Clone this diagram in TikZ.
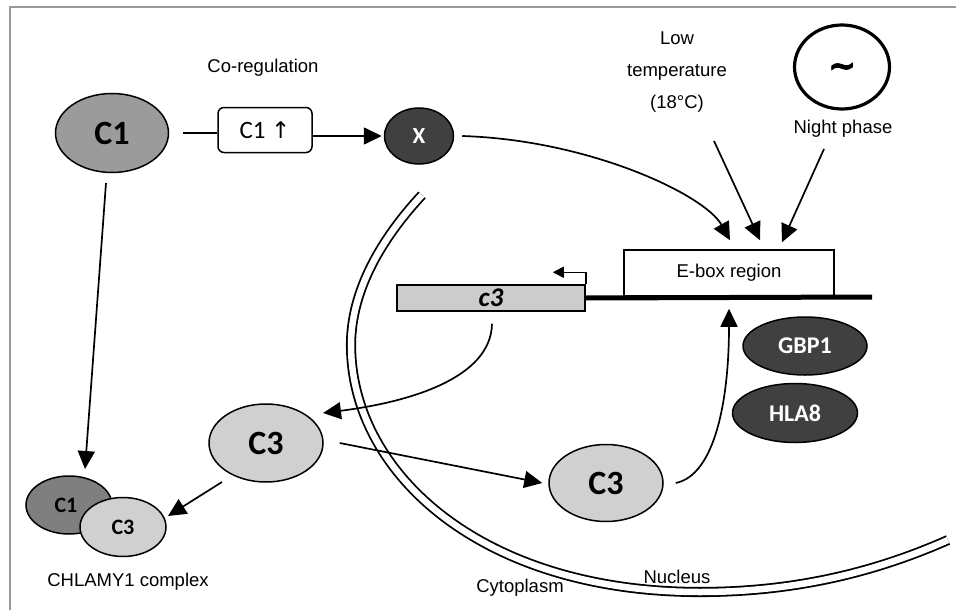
\documentclass[tikz,border=0pt]{standalone}
\usepackage{fontspec}
\setmainfont{Liberation Sans}
\newfontfamily\carl{Carlito}
\newfontfamily\dejavu{DejaVu Sans}
\newfontfamily\tildefont[FakeBold=2.5]{DejaVu Sans Bold}
\usetikzlibrary{shapes.geometric,arrows.meta,calc}
\definecolor{coneg}{HTML}{9B9B9B}
\definecolor{conedark}{HTML}{7F7F7F}
\definecolor{cthree}{HTML}{D0D0D0}
\definecolor{darkov}{HTML}{404040}
\definecolor{geneg}{HTML}{CCCCCC}
\definecolor{framegray}{HTML}{9A9A9A}
\begin{document}
\begin{tikzpicture}[x=1pt,y=-1pt,
  ln/.style={line width=1.7pt},
  arr/.style={line width=1.7pt,-{Triangle[length=18pt,width=17pt]}},
  oval/.style={ellipse,draw,line width=1.5pt,inner sep=0pt},
  bigl/.style={font=\carl\bfseries\fontsize{34}{34}\selectfont},
  midl/.style={font=\carl\bfseries\fontsize{24}{24}\selectfont},
  smll/.style={font=\carl\bfseries\fontsize{22}{22}\selectfont},
  txt/.style={font=\fontsize{18.5}{18.5}\selectfont,inner sep=0pt}
]
\useasboundingbox (0,0) rectangle (956,610);
% frame
\draw[framegray,line width=1.2pt] (10,610) -- (10,7) -- (956,7);

% nuclear envelope
\draw[line width=1.8pt,double=white,double distance=6.5pt]
  (422,195) .. controls (382,238) and (351,290) .. (351,345)
  .. controls (351,472) and (480,592) .. (700,592)
  .. controls (800,592) and (880,570) .. (948,540);

% nodes
\node[oval,fill=coneg,minimum width=113pt,minimum height=79pt,bigl] (c1) at (112,133) {C1};
\node[draw,rounded corners=6pt,line width=1.5pt,minimum width=94pt,minimum height=45pt,inner sep=0pt,
      font=\carl\fontsize{25}{25}\selectfont] (upbox) at (265,130) {C1 {\dejavu\fontsize{23}{23}\selectfont↑}};
\node[oval,fill=darkov,minimum width=69pt,minimum height=56pt,text=white,font=\carl\bfseries\fontsize{23}{23}\selectfont] (x) at (419,136) {X};
\node[txt] (coreg) at (263,68) {Co-regulation};

\node[txt,align=center,font=\fontsize{18.5}{32}\selectfont] (lowt) at (677,72) {Low\\temperature\\(18°C)};
\node[ellipse,draw,line width=3.2pt,minimum width=95pt,minimum height=84pt,inner sep=0pt] (night) at (842,67) {};
\node[font=\tildefont\fontsize{33}{33}\selectfont,inner sep=0pt] (tilde) at (842,70) {\textasciitilde};
\node[txt] (nightl) at (843,129) {Night phase};

\node[draw,line width=1.5pt,minimum width=210pt,minimum height=46pt,inner sep=0pt,txt] (ebox) at (729,273) {E-box region};
\node[draw,fill=geneg,line width=1.5pt,minimum width=188pt,minimum height=26pt,inner sep=0pt,
      font=\carl\bfseries\itshape\fontsize{27}{27}\selectfont] (gene) at (491,298) {c3};
\draw[line width=5pt] (gene.east) -- (872,297);

\node[oval,fill=darkov,minimum width=124pt,minimum height=58pt,text=white,midl] (gbp) at (805,346) {GBP1};
\node[oval,fill=darkov,minimum width=125pt,minimum height=59pt,text=white,midl] (hla) at (795,413) {HLA8};

\node[oval,fill=cthree,minimum width=114pt,minimum height=78pt,bigl] (c3a) at (266,443) {C3};
\node[oval,fill=cthree,minimum width=114pt,minimum height=77pt,bigl] (c3b) at (606,483) {C3};

\node[oval,fill=conedark,minimum width=86pt,minimum height=58pt,smll] (cx1) at (69,505) {};
\node[smll,inner sep=0pt] at (66,505) {C1};
\node[oval,fill=cthree,minimum width=86pt,minimum height=59pt,smll] (cx3) at (123,527) {C3};
\node[txt] (chl) at (128,582) {CHLAMY1 complex};

\node[txt] (cyto) at (520,588) {Cytoplasm};
\node[txt] (nuc) at (677,577) {Nucleus};

% connectors
\draw[ln] ([xshift=14pt]c1.east) -- (c1.east -| upbox.west);
\draw[arr] (upbox.east |- x.west) -- ([xshift=-2pt]x.west);
\draw[arr] ([xshift=8pt]x.east) .. controls (590,140) and (705,195) .. ([shift={(1,-9)}]ebox.north);
\coordinate (lts) at (714,141);
\draw[arr] (lts) -- ([shift={(31,-9)}]ebox.north);
\coordinate (nps) at (824,149);
\draw[arr] (nps) -- ([shift={(53,-7)}]ebox.north);

\draw[line width=1.5pt,-{Triangle[length=11pt,width=11pt]}] (gene.north east) -- ++(0,-12) -- ++(-33,0);

\draw[arr] ([shift={(1,12)}]gene.south) .. controls (491,378) and (410,402) .. ([shift={(57,-30)}]c3a.center);
\draw[arr] ([shift={(-6,50)}]c1.center) -- ([shift={(16,-36)}]cx1.center);
\draw[arr] ([shift={(-44,39)}]c3a.center) -- ([shift={(45,-11)}]cx3.center);
\draw[arr] ([xshift=16pt]c3a.east) -- ([xshift=-6pt]c3b.west);
\draw[arr] ([xshift=12pt]c3b.east) .. controls (715,475) and (729,400) .. ([shift={(0,12)}]ebox.south);
\end{tikzpicture}
\end{document}
